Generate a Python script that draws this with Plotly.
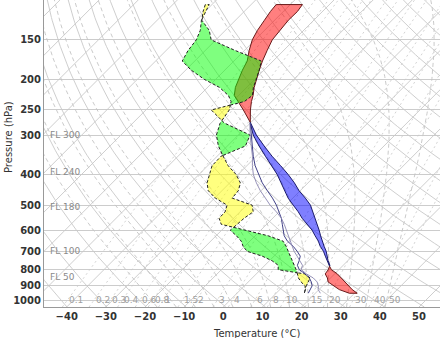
import numpy as np
import plotly.graph_objects as go

# ---------------- data ----------------
p_levels = [116, 122, 130, 140, 150, 162, 175, 187, 200, 212, 225, 235, 250, 275, 300,
            325, 350, 375, 400, 425, 450, 475, 500, 525, 550, 575, 600, 625, 650, 675,
            700, 725, 750, 775, 800, 825, 850, 875, 900, 925, 950]
temp_a = [-56.9, -56.4, -56.5, -56.0, -55.6, -54.2, -52.7, -51.2, -49.6, -48.1, -46.3, -45.2,
          -43.3, -40.0, -36.2, -31.9, -27.7, -23.8, -20.0, -16.9, -13.9, -11.2, -8.1, -5.1,
          -2.5, 0.3, 3.1, 5.3, 7.5, 9.3, 11.4, 13.1, 14.8, 16.4, 18.1, 20.7, 22.7, 24.8,
          26.5, 28.5, 30.7]
temp_b = [-63.6, -63.3, -62.6, -61.8, -60.7, -58.8, -56.6, -55.5, -54.2, -52.9, -51.1, -48.6,
          -45.1, -39.9, -35.4, -30.6, -26.0, -21.4, -17.2, -13.5, -10.3, -6.8, -3.7, -1.3,
          0.9, 2.9, 4.9, 6.7, 8.5, 10.3, 12.1, 13.6, 15.0, 16.6, 17.3, 17.6, 19.2, 20.4,
          22.7, 25.2, 28.7]
dewp_a = [-81.7, -80.5, -78.6, -74.1, -71.2, -62.4, -53.0, -51.2, -49.6, -48.3, -46.5, -47.0,
          -53.3, -46.6, -37.0, -35.4, -39.0, -38.9, -37.4, -35.8, -33.5, -29.8, -25.0, -23.8,
          -23.7, -21.6, -14.0, -6.7, -1.5, 0.6, 2.4, 4.2, 5.8, 7.5, 9.1, 10.5, 11.8, 13.5,
          15.5, 16.5, 17.2]
dewp_b = [-80.7, -79.7, -78.7, -76.4, -75.0, -74.4, -73.2, -68.6, -62.9, -57.0, -52.6, -50.4,
          -48.7, -47.7, -45.6, -42.3, -38.5, -34.8, -30.5, -27.3, -25.8, -25.5, -18.6, -16.6,
          -17.3, -17.5, -17.8, -14.8, -12.2, -10.4, -8.1, -3.0, 0.7, 3.4, 4.5, 12.3, 14.8,
          15.3, 15.8, 16.6, 17.3]
parcel_p = [275, 300, 325, 350, 375, 400, 425, 450, 475, 500, 525, 550, 575, 600, 625, 650,
            675, 700, 725, 750, 775, 800, 825, 850, 875, 900, 925, 950]
parcel_a = [-40.0, -36.7, -33.6, -30.8, -27.9, -24.8, -21.7, -18.4, -15.2, -12.4, -10.0, -7.8,
            -6.0, -4.3, -2.6, -0.4, 2.4, 4.7, 6.7, 7.6, 8.3, 9.9, 12.5, 14.6, 16.1, 17.3,
            17.8, 18.2]
parcel_b = [-40.1, -37.0, -33.9, -31.0, -28.6, -26.1, -23.2, -20.2, -17.0, -14.0, -10.7, -7.8,
            -5.5, -3.5, -1.6, 0.3, 2.2, 3.9, 5.9, 7.9, 9.6, 10.4, 12.8, 15.6, 17.6, 18.9,
            19.8, 21.3]

x_ticks = [-40, -30, -20, -10, 0, 10, 20, 30, 40, 50]
p_ticks = [150, 200, 250, 300, 400, 500, 600, 700, 800, 900, 1000]
mix_ratios = [0.1, 0.2, 0.3, 0.4, 0.6, 0.8, 1, 1.5, 2, 3, 4, 6, 8, 10, 15, 20, 30, 40, 50]
flight_levels = [300, 240, 180, 100, 50]

# ---------------- skew-T geometry ----------------
SKEW = 35.0
P_BOT = 1050.0
P_TOP = 112.2


def skx(T, p):
    return np.asarray(T, float) + SKEW * np.log(P_BOT / np.asarray(p, float))


def dewpoint_from_w(w, p):
    e = w * p / (622.0 + w)
    a = np.log(e / 6.112)
    return 243.5 * a / (17.67 - a)


def moist_profiles(T0s, plist):
    Rd, cpd, Lv, eps = 287.04, 1005.7, 2.501e6, 0.622

    def f(T, p):
        Tc = T - 273.15
        es = 6.112 * np.exp(17.67 * Tc / (Tc + 243.5))
        rs = eps * es / (p - es)
        return (Rd * T + Lv * rs) / (cpd + Lv * Lv * rs * eps / (Rd * T * T))

    T = np.asarray(T0s, float) + 273.15
    res = [T.copy()]
    lps = np.log(plist)
    for i in range(len(plist) - 1):
        h = lps[i + 1] - lps[i]
        p0 = plist[i]
        k1 = f(T, p0)
        pm = np.exp(lps[i] + h / 2)
        k2 = f(T + h / 2 * k1, pm)
        k3 = f(T + h / 2 * k2, pm)
        k4 = f(T + h * k3, plist[i + 1])
        T = T + h / 6 * (k1 + 2 * k2 + 2 * k3 + k4)
        res.append(T.copy())
    return np.array(res) - 273.15


def join_lines(lines):
    xs, ys = [], []
    for x, y in lines:
        xs.extend(list(x) + [None])
        ys.extend(list(y) + [None])
    return xs, ys


fig = go.Figure()
pp = np.geomspace(P_BOT, 105, 120)

# isotherms
iso = [(skx(np.full_like(pp, t), pp), pp) for t in range(-140, 60, 10)]
x, y = join_lines(iso)
fig.add_trace(go.Scatter(x=x, y=y, mode="lines", line=dict(color="#c8c8c8", width=0.9),
                         hoverinfo="skip"))

# dry adiabats
dry = []
for th in range(210, 500, 10):
    T = th * (pp / 1000.0) ** 0.2857 - 273.15
    dry.append((skx(T, pp), pp))
x, y = join_lines(dry)
fig.add_trace(go.Scatter(x=x, y=y, mode="lines", line=dict(color="#c8c8c8", width=0.9),
                         hoverinfo="skip"))

# moist adiabats
t0s = np.arange(-20, 45, 5)
p_up = np.geomspace(1000, 105, 160)
p_dn = np.geomspace(1000, P_BOT, 10)
up = moist_profiles(t0s, p_up)
dn = moist_profiles(t0s, p_dn)
moist = []
for j in range(len(t0s)):
    pj = np.concatenate([p_dn[::-1], p_up[1:]])
    tj = np.concatenate([dn[::-1, j], up[1:, j]])
    moist.append((skx(tj, pj), pj))
x, y = join_lines(moist)
fig.add_trace(go.Scatter(x=x, y=y, mode="lines",
                         line=dict(color="#c4c4c4", width=0.9, dash="4px,3px"),
                         hoverinfo="skip"))

# mixing ratio lines
mix = []
for w in mix_ratios:
    td = dewpoint_from_w(w, pp)
    mix.append((skx(td, pp), pp))
x, y = join_lines(mix)
fig.add_trace(go.Scatter(x=x, y=y, mode="lines",
                         line=dict(color="#c8c8c8", width=0.8, dash="2px,3px"),
                         hoverinfo="skip"))


# ---------------- bands ----------------
def band_polys(p, a, b):
    p = np.asarray(p, float)
    a = np.asarray(a, float)
    b = np.asarray(b, float)
    lp = np.log(p)
    xa, xb = skx(a, p), skx(b, p)
    d = a - b
    segs = []
    sign = d[0] > 0
    ca, cb = [(xa[0], p[0])], [(xb[0], p[0])]
    for i in range(len(p) - 1):
        if (d[i + 1] > 0) != sign:
            fr = d[i] / (d[i] - d[i + 1])
            pc = float(np.exp(lp[i] + fr * (lp[i + 1] - lp[i])))
            xc = xa[i] + fr * (xa[i + 1] - xa[i])
            ca.append((xc, pc))
            cb.append((xc, pc))
            segs.append((sign, ca, cb))
            ca, cb = [(xc, pc)], [(xc, pc)]
            sign = not sign
        ca.append((xa[i + 1], p[i + 1]))
        cb.append((xb[i + 1], p[i + 1]))
    segs.append((sign, ca, cb))
    return segs


def add_band(p, a, b, pos_fill, neg_fill, pos_line, neg_line, dash=None):
    for sign, ca, cb in band_polys(p, a, b):
        pts = ca + cb[::-1] + [ca[0]]
        fig.add_trace(go.Scatter(
            x=[q[0] for q in pts], y=[q[1] for q in pts], mode="lines",
            fill="toself", fillcolor=pos_fill if sign else neg_fill,
            line=dict(color=pos_line if sign else neg_line, width=1, dash=dash),
            hoverinfo="skip"))


add_band(p_levels, temp_a, temp_b, "rgba(255,0,0,0.5)", "rgba(0,0,255,0.5)",
         "#6a1a1a", "#1a1a6a")
add_band(p_levels, dewp_a, dewp_b, "rgba(0,255,0,0.5)", "rgba(255,255,0,0.5)",
         "#222222", "#222222", dash="3px,2px")

fig.add_trace(go.Scatter(x=skx(parcel_a, parcel_p), y=parcel_p, mode="lines",
                         line=dict(color="#2b2b7a", width=0.9), hoverinfo="skip"))
fig.add_trace(go.Scatter(x=skx(parcel_b, parcel_p), y=parcel_p, mode="lines",
                         line=dict(color="#8a86b0", width=0.9), hoverinfo="skip"))

# ---------------- annotations ----------------
ann = []
for w in mix_ratios:
    ann.append(dict(x=float(skx(dewpoint_from_w(w, 1000.0), 1000.0)), y=3.0, xref="x", yref="y",
                    text=("%g" % w), showarrow=False, xanchor="left", yanchor="middle",
                    font=dict(family="DejaVu Sans", size=9, color="#a0a0a0")))
for fl in flight_levels:
    h = fl * 100 * 0.3048
    pfl = 1013.25 * (1 - 2.25577e-5 * h) ** 5.25588
    ann.append(dict(x=0.0101, y=float(np.log10(pfl)), xref="paper", yref="y",
                    text="FL %d" % fl, showarrow=False, xanchor="left", yanchor="middle",
                    font=dict(family="DejaVu Sans", size=9, color="#8a8a8a")))
ann.append(dict(x=(8 - 44) / 396, y=(307 - 137) / 307, xref="paper", yref="paper",
                text="Pressure (hPa)", textangle=-90, showarrow=False,
                xanchor="center", yanchor="middle",
                font=dict(family="DejaVu Sans", size=10, color="#333")))
ann.append(dict(x=(256 - 44) / 396, y=(307 - 333) / 307, xref="paper", yref="paper",
                text="Temperature (°C)", showarrow=False, xanchor="center", yanchor="middle",
                font=dict(family="DejaVu Sans", size=10, color="#333")))

fig.update_layout(
    width=440, height=338, margin=dict(l=44, r=0, t=0, b=31),
    plot_bgcolor="white", paper_bgcolor="white", showlegend=False,
    annotations=ann,
    xaxis=dict(range=[-45.8, 55.36], tickvals=x_ticks, showgrid=False, zeroline=False,
               showline=True, linecolor="#999", linewidth=1, ticks="",
               tickfont=dict(family="DejaVu Sans", size=10, color="#333", weight="bold")),
    yaxis=dict(type="log", range=[np.log10(P_BOT), np.log10(P_TOP)], tickvals=p_ticks,
               ticktext=[str(v) for v in p_ticks], showgrid=True, gridcolor="#cccccc",
               gridwidth=1, zeroline=False, showline=True, linecolor="#999", linewidth=1,
               ticks="",
               tickfont=dict(family="DejaVu Sans", size=10, color="#333", weight="bold")),
)

fig.write_html("out.html")
